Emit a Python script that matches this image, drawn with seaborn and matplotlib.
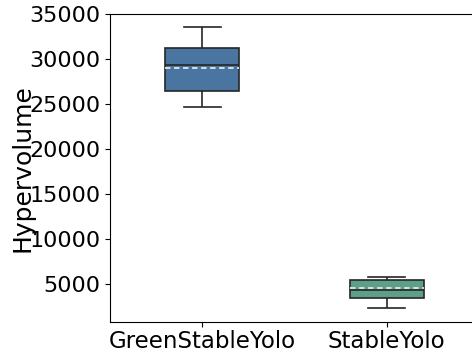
import matplotlib
matplotlib.use("Agg")
import matplotlib.pyplot as plt
from matplotlib.ticker import MultipleLocator
import pandas as pd
import seaborn as sns

# Hypervolume summary per method
methods = ["GreenStableYolo", "StableYolo"]
whisker_low = [24720, 2300]
q1 = [26470, 3480]
median = [29360, 4330]
q3 = [31290, 5445]
whisker_high = [33555, 5780]
mean = [29000, 4590]
colors = ["#4a75a0", "#5d9f8a"]

rows = []
for i, m in enumerate(methods):
    for v in (whisker_low[i], q1[i], median[i], q3[i], whisker_high[i]):
        rows.append({"method": m, "hv": v})
df = pd.DataFrame(rows)

fig = plt.figure(figsize=(4.72, 3.52), dpi=100)
ax = fig.add_axes([110 / 472, 30 / 352, 369 / 472, 308.5 / 352])

sns.boxplot(data=df, x="method", y="hv", hue="method", order=methods,
            palette=colors, width=0.4, saturation=1, linecolor="#262626",
            linewidth=1.2, whis=1.5, legend=False, ax=ax)

for i, m in enumerate(mean):
    ax.hlines(m, i - 0.2, i + 0.2, colors="#e6e6e6",
              linestyles=(0, (3, 2)), linewidth=1.3, zorder=5)

ax.set_xlim(-0.5, 1.5)
ax.set_ylim(773, 35090)
ax.yaxis.set_major_locator(MultipleLocator(5000))
ax.set_xlabel("")
ax.set_ylabel("Hypervolume", fontsize=18, labelpad=-4)
ax.tick_params(axis="y", labelsize=16)
ax.tick_params(axis="x", labelsize=16.5, pad=2)

fig.savefig("out.png", dpi=100)
